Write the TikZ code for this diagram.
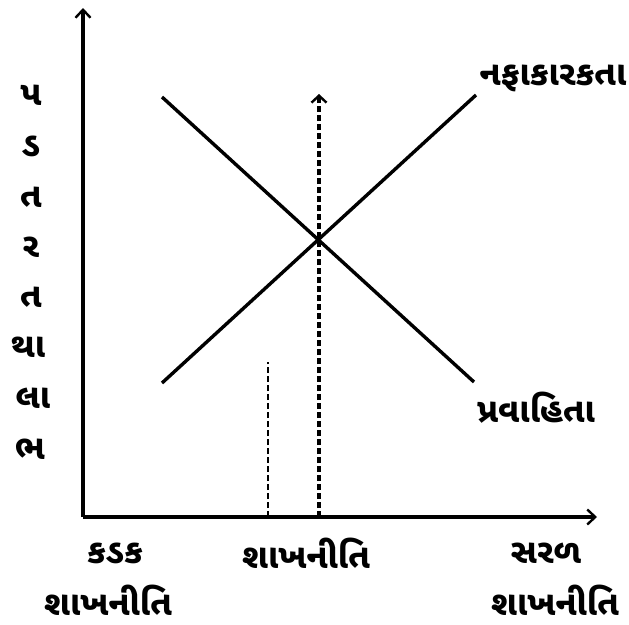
\documentclass[tikz,border=0pt]{standalone}
\usepackage{fontspec}
\newfontfamily\guj[Script=Gujarati]{Noto Sans Gujarati UI}
\usetikzlibrary{arrows.meta}
\begin{document}
\begin{tikzpicture}[x=1pt,y=-1pt,
  axis/.style={line width=3.2pt,-{Straight Barb[length=8pt,width=15pt,line width=2.4pt]}},
  curve/.style={line width=3.4pt},
  dash1/.style={line width=4pt,dash pattern=on 6pt off 3pt},
  dash2/.style={line width=2.8pt,dash pattern=on 6pt off 3pt},
  lbl/.style={font=\guj\bfseries\fontsize{34}{38}\selectfont,inner sep=0pt}]
\useasboundingbox (0,0) rectangle (629,624);
\coordinate (O) at (83,517);
\coordinate (ytop) at (83,8);
\coordinate (xend) at (597,517);
\draw[axis] (O) -- (ytop);
\draw[axis] (O) -- (xend);
\coordinate (p1) at (162,383);
\coordinate (p2) at (476,95);
\coordinate (q1) at (162,97);
\coordinate (q2) at (474,382);
\draw[curve] (p1) -- (p2);
\draw[curve] (q1) -- (q2);
\coordinate (d1) at (319,517);
\coordinate (d1t) at (319,94);
\draw[dash1,-{Straight Barb[length=7pt,width=15pt,line width=2.4pt]}] (d1) -- (d1t);
\coordinate (d2) at (268,517);
\coordinate (d2t) at (268,362);
\draw[dash2] (d2) -- (d2t);
\node[lbl] (nafa) at (553,78) {નફાકારકતા};
\node[lbl] (prav) at (536,408) {પ્રવાહિતા};
\node[lbl] (v1) at (31,95) {પ};
\node[lbl] (v2) at (31,146) {ડ};
\node[lbl] (v3) at (31,197) {ત};
\node[lbl] (v4) at (31,247) {ર};
\node[lbl] (v5) at (31,297) {ત};
\node[lbl] (v6) at (28,347) {થા};
\node[lbl] (v7) at (33,398) {લા};
\node[lbl] (v8) at (30,449) {ભ};
\node[lbl] (b1) at (115,553) {કડક};
\node[lbl] (b2) at (108,600) {શાખનીતિ};
\node[lbl] (b3) at (306,553) {શાખનીતિ};
\node[lbl] (b4) at (546,553) {સરળ};
\node[lbl] (b5) at (555,600) {શાખનીતિ};
\end{tikzpicture}
\end{document}
